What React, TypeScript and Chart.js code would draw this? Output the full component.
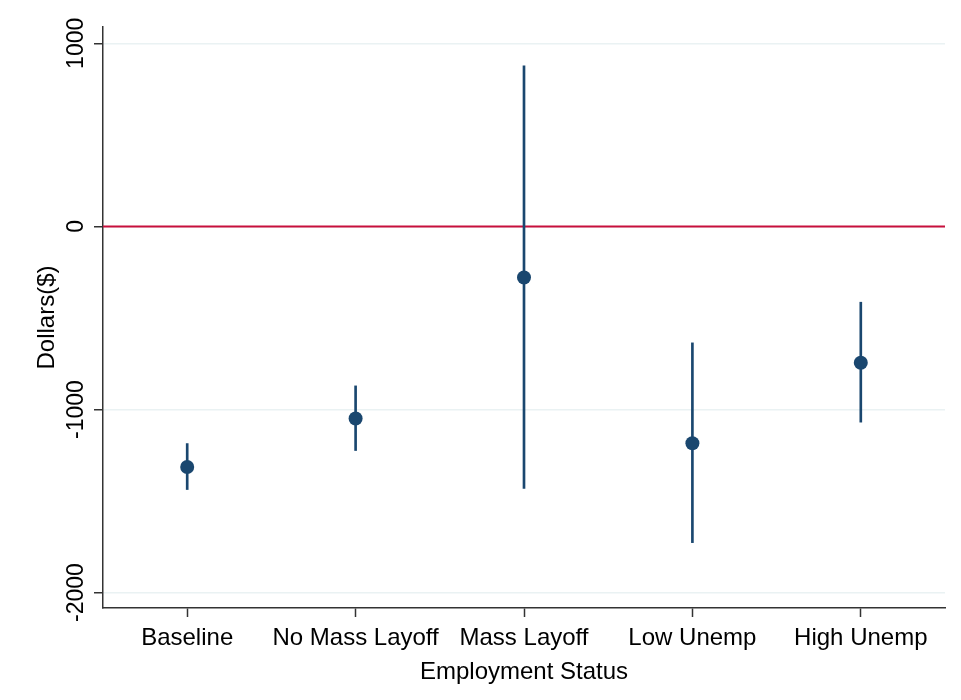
import React, { useEffect, useRef } from "react";
import { Chart, registerables } from "chart.js";

Chart.register(...registerables);

const categories = ["Baseline", "No Mass Layoff", "Mass Layoff", "Low Unemp", "High Unemp"];
const estimates = [-1314, -1049, -279, -1184, -745];
const ciLower = [-1437, -1224, -1431, -1727, -1069];
const ciUpper = [-1186, -871, 877, -636, -414];
const yTicks = [-2000, -1000, 0, 1000];
const yMin = -2084;
const yMax = 1089;
const refValue = 0;

const FONT = "'Liberation Sans', Arial, sans-serif";
const NAVY = "#1a476f";
const RED = "#c8103c";
const AXIS = "#333333";

const refLinePlugin = {
  id: "refLine",
  beforeDatasetsDraw(chart: any) {
    const { ctx, chartArea, scales } = chart;
    const y = scales.y.getPixelForValue(refValue);
    ctx.save();
    ctx.strokeStyle = RED;
    ctx.lineWidth = 2;
    ctx.beginPath();
    ctx.moveTo(chartArea.left, y);
    ctx.lineTo(chartArea.right, y);
    ctx.stroke();
    ctx.restore();
  },
};

export default function App() {
  const canvasRef = useRef<HTMLCanvasElement | null>(null);

  useEffect(() => {
    if (!canvasRef.current) return;
    const chart = new Chart(canvasRef.current, {
      type: "bar",
      data: {
        labels: categories,
        datasets: [
          {
            type: "line",
            data: estimates,
            showLine: false,
            pointRadius: 7,
            pointHoverRadius: 7,
            pointBackgroundColor: NAVY,
            pointBorderWidth: 0,
            borderColor: NAVY,
            order: 0,
          } as any,
          {
            type: "bar",
            data: categories.map((_, i) => [ciLower[i], ciUpper[i]]),
            backgroundColor: NAVY,
            borderWidth: 0,
            barThickness: 2,
            order: 1,
          } as any,
        ],
      },
      options: {
        animation: false,
        responsive: false,
        devicePixelRatio: 1,
        layout: { padding: { top: 27, right: 16, bottom: 0, left: 0 } },
        plugins: {
          legend: { display: false },
          tooltip: { enabled: false },
        },
        scales: {
          x: {
            type: "category",
            offset: true,
            grid: {
              display: true,
              drawOnChartArea: false,
              drawTicks: true,
              tickLength: 9,
              tickColor: AXIS,
              tickWidth: 1.5,
              offset: false,
            },
            border: { display: true, color: AXIS, width: 1.5 },
            ticks: {
              font: { family: FONT, size: 24 },
              color: "#000",
              padding: 7,
              minRotation: 0,
              maxRotation: 0,
              autoSkip: false,
            },
            title: {
              display: true,
              text: "Employment Status",
              font: { family: FONT, size: 24 },
              color: "#000",
              padding: { top: 0, bottom: 13 },
            },
            afterFit(scale: any) {
              scale.height = 92;
            },
          },
          y: {
            type: "linear",
            min: yMin,
            max: yMax,
            afterBuildTicks(scale: any) {
              scale.ticks = yTicks.map((v) => ({ value: v }));
            },
            grid: {
              color: "#eaf2f3",
              lineWidth: 1.5,
              drawTicks: true,
              tickLength: 9,
              tickColor: AXIS,
              tickWidth: 1.5,
            },
            border: { display: true, color: AXIS, width: 1.5 },
            ticks: {
              font: { family: FONT, size: 23 },
              color: "#000",
              minRotation: 90,
              maxRotation: 90,
              crossAlign: "center",
              padding: -12,
              callback: (v: any) => String(v),
            },
            title: {
              display: true,
              text: "Dollars($)",
              font: { family: FONT, size: 24 },
              color: "#000",
              padding: { top: 33, bottom: 0 },
            },
            afterFit(scale: any) {
              scale.width = 103;
            },
          },
        },
      } as any,
      plugins: [refLinePlugin],
    });
    return () => chart.destroy();
  }, []);

  return (
    <div style={{ position: "fixed", left: 0, top: 0, width: 961, height: 700, background: "#fff" }}>
      <canvas ref={canvasRef} width={961} height={700} />
    </div>
  );
}
